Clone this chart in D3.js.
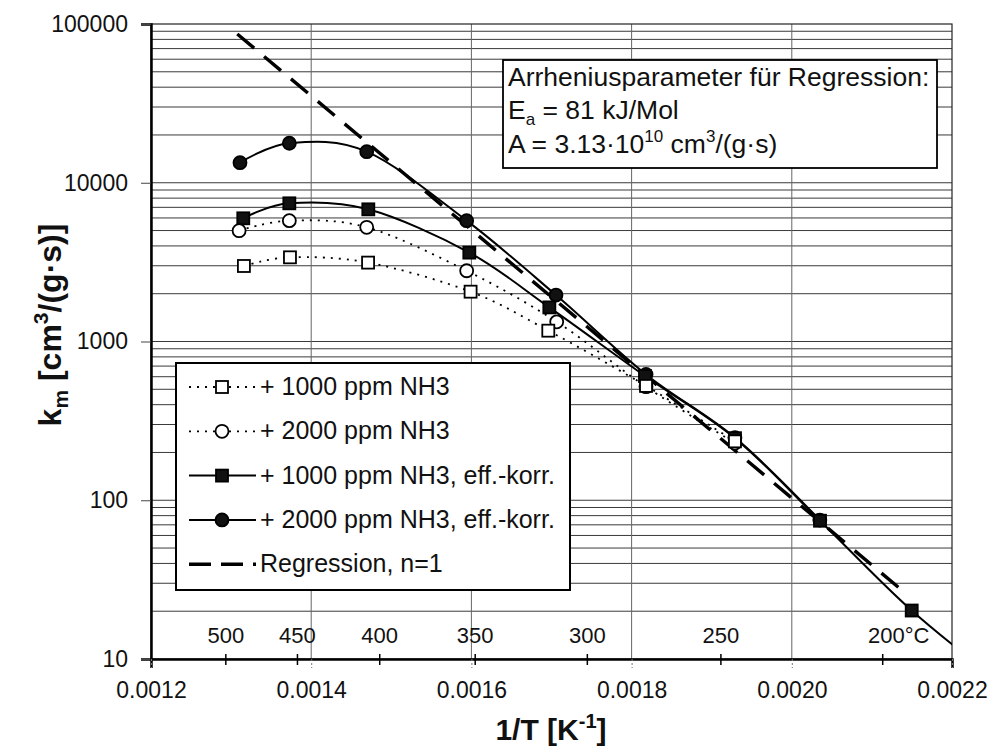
<!DOCTYPE html>
<html><head><meta charset="utf-8">
<script src="https://cdn.jsdelivr.net/npm/d3@7/dist/d3.min.js"></script>
<style>
body{margin:0;background:#fff}
svg{display:block}
text{font-family:"Liberation Sans",Arial,sans-serif;fill:#111}
</style>
</head><body>
<svg id="chart" width="994" height="750"></svg>
<script>
// ---- data ----
const xTicks = [0.0012, 0.0014, 0.0016, 0.0018, 0.0020, 0.0022];
const yTicks = [10, 100, 1000, 10000, 100000];
const tempTicksC = [500, 450, 400, 350, 300, 250, 200];
const seriesNames = ["+ 1000 ppm NH3", "+ 2000 ppm NH3", "+ 1000 ppm NH3, eff.-korr.", "+ 2000 ppm NH3, eff.-korr.", "Regression, n=1"];

const invT_1000 = [0.001316, 0.0013735, 0.001471, 0.001599, 0.001696, 0.001818, 0.001929];
const km_1000   = [2990, 3390, 3140, 2060, 1170, 525, 235];

const invT_2000 = [0.00131, 0.0013727, 0.0014693, 0.0015941, 0.0017065, 0.001818, 0.001929];
const km_2000   = [4990, 5770, 5240, 2790, 1330, 519, 229];

const invT_1000k = [0.0013152, 0.0013727, 0.0014713, 0.0015974, 0.0016973, 0.0018167, 0.0019291, 0.0020352, 0.0021497, 0.00226];
const km_1000k   = [5970, 7420, 6800, 3630, 1640, 606, 246, 74.3, 20.2, 7.2];

const invT_2000k = [0.0013111, 0.0013727, 0.0014693, 0.0015941, 0.0017056, 0.001818, 0.001929, 0.002035];
const km_2000k   = [13380, 17730, 15690, 5770, 1960, 620, 248, 75];

const invT_reg = [0.0013077, 0.0021372];
const km_reg   = [86500, 27.2];

// ---- setup ----
const svg = d3.select("#chart");
const x = d3.scaleLinear().domain([0.0012, 0.0022]).range([151, 952]);
const y = d3.scaleLog().domain([10, 100000]).range([659, 24]);
const [X0, X1] = x.range(), [Y0, Y1] = y.range();
const FONT = '"Liberation Sans",Arial,sans-serif';

svg.append("rect").attr("width", 994).attr("height", 750).attr("fill", "#fff");

svg.append("defs").append("clipPath").attr("id", "plotclip")
  .append("rect").attr("x", X0).attr("y", Y1).attr("width", X1 - X0).attr("height", Y0 - Y1);

// horizontal gridlines (minor + major)
const hLines = [];
[10, 100, 1000, 10000].forEach(d => { for (let m = 2; m <= 9; m++) hLines.push(d * m); });
[100, 1000, 10000].forEach(d => hLines.push(d));
svg.append("g").selectAll("line").data(hLines).join("line")
  .attr("x1", X0).attr("x2", X1)
  .attr("y1", d => y(d)).attr("y2", d => y(d))
  .attr("stroke", "#3a3a3a").attr("stroke-width", 1);

// vertical gridlines
svg.append("g").selectAll("line").data(xTicks.slice(1, -1)).join("line")
  .attr("x1", d => x(d)).attr("x2", d => x(d))
  .attr("y1", Y1).attr("y2", Y0)
  .attr("stroke", "#666").attr("stroke-width", 1);

// plot frame
svg.append("rect").attr("x", X0).attr("y", Y1).attr("width", X1 - X0).attr("height", Y0 - Y1)
  .attr("fill", "none").attr("stroke", "#222").attr("stroke-width", 1.2);

// axes
const yAxis = d3.axisLeft(y).tickValues(yTicks).tickFormat(d3.format("d")).tickSize(10).tickPadding(13);
const gy = svg.append("g").attr("transform", `translate(${X0},0)`).call(yAxis);
gy.select(".domain").attr("stroke", "#000").attr("stroke-width", 2.5);
gy.selectAll(".tick line").attr("stroke", "#444");
gy.selectAll(".tick text").attr("font-size", 23).attr("font-family", FONT).attr("fill", "#111");

const xAxis = d3.axisBottom(x).tickValues(xTicks).tickFormat(d3.format(".4f")).tickSize(9).tickPadding(14);
const gx = svg.append("g").attr("transform", `translate(0,${Y0})`).call(xAxis);
gx.select(".domain").attr("stroke", "#000").attr("stroke-width", 2.5);
gx.selectAll(".tick line").attr("stroke", "#777").attr("stroke-dasharray", "2,2");
gx.selectAll(".tick text").attr("font-size", 23).attr("font-family", FONT).attr("fill", "#111");

// temperature scale inside plot
const tempX = t => x(1 / (t + 273.15));
svg.append("g").selectAll("line").data(tempTicksC).join("line")
  .attr("x1", d => tempX(d)).attr("x2", d => tempX(d))
  .attr("y1", Y0 - 5).attr("y2", Y0 + 6)
  .attr("stroke", "#000").attr("stroke-width", 1.5);
svg.append("g").selectAll("text").data(tempTicksC).join("text")
  .attr("x", d => tempX(d) + (d === 200 ? 16 : 0))
  .attr("y", Y0 - 16)
  .attr("text-anchor", "middle")
  .attr("font-size", 22).attr("fill", "#222")
  .text(d => d === 200 ? "200°C" : d);

// ---- series ----
const plot = svg.append("g").attr("clip-path", "url(#plotclip)");
const line = d3.line().x(d => x(d[0])).y(d => y(d[1])).curve(d3.curveCatmullRom.alpha(0));
const zip = (a, b) => a.map((v, i) => [v, b[i]]);

const S = [
  {data: zip(invT_1000, km_1000), dash: "2,6", sw: 1.8, marker: "square", fill: "#fff"},
  {data: zip(invT_2000, km_2000), dash: "2,6", sw: 1.8, marker: "circle", fill: "#fff"},
  {data: zip(invT_1000k, km_1000k), dash: null, sw: 2, marker: "square", fill: "#111"},
  {data: zip(invT_2000k, km_2000k), dash: null, sw: 2, marker: "circle", fill: "#111"},
];

// regression
plot.append("path").datum(zip(invT_reg, km_reg))
  .attr("d", d3.line().x(d => x(d[0])).y(d => y(d[1])))
  .attr("fill", "none").attr("stroke", "#000").attr("stroke-width", 3.4)
  .attr("stroke-dasharray", "22,13");

S.forEach(s => {
  plot.append("path").datum(s.data).attr("d", line)
    .attr("fill", "none").attr("stroke", "#000").attr("stroke-width", s.sw)
    .attr("stroke-dasharray", s.dash);
});

function drawMarker(g, type, cx, cy, fill) {
  if (type === "square") {
    g.append("rect").attr("x", cx - 6).attr("y", cy - 6).attr("width", 12).attr("height", 12)
      .attr("fill", fill).attr("stroke", "#000").attr("stroke-width", 1.8);
  } else {
    g.append("circle").attr("cx", cx).attr("cy", cy).attr("r", 6.5)
      .attr("fill", fill).attr("stroke", "#000").attr("stroke-width", 1.8);
  }
}
[3, 2, 1, 0].forEach(i => {
  const s = S[i];
  s.data.forEach(d => {
    if (d[0] <= 0.0022) drawMarker(plot, s.marker, x(d[0]), y(d[1]), s.fill);
  });
});

// ---- legend ----
const lg = svg.append("g");
lg.append("rect").attr("x", 176).attr("y", 363).attr("width", 394).attr("height", 227)
  .attr("fill", "#fff").attr("stroke", "#000").attr("stroke-width", 2);
const rowY = i => 387 + i * 44.3;
seriesNames.forEach((name, i) => {
  const yy = rowY(i);
  if (i < 4) {
    const s = S[i];
    lg.append("line").attr("x1", 189).attr("x2", 256).attr("y1", yy).attr("y2", yy)
      .attr("stroke", "#000").attr("stroke-width", s.sw).attr("stroke-dasharray", s.dash);
    drawMarker(lg, s.marker, 222, yy, s.fill);
  } else {
    lg.append("line").attr("x1", 189).attr("x2", 256).attr("y1", yy).attr("y2", yy)
      .attr("stroke", "#000").attr("stroke-width", 3.4).attr("stroke-dasharray", "22,10");
  }
  lg.append("text").attr("x", 260).attr("y", yy + 8).attr("font-size", 25).text(name);
});

// ---- annotation box ----
const ab = svg.append("g");
ab.append("rect").attr("x", 503).attr("y", 60).attr("width", 434).attr("height", 108)
  .attr("fill", "#fff").attr("stroke", "#000").attr("stroke-width", 1.8);
ab.append("text").attr("x", 508).attr("y", 86).attr("font-size", 26.5).text("Arrheniusparameter für Regression:");
const t2 = ab.append("text").attr("x", 508).attr("y", 119).attr("font-size", 26.5);
t2.append("tspan").text("E");
t2.append("tspan").attr("dy", 6).attr("font-size", 17).text("a");
t2.append("tspan").attr("dy", -6).text(" = 81 kJ/Mol");
const t3 = ab.append("text").attr("x", 508).attr("y", 153).attr("font-size", 26.5);
t3.append("tspan").text("A = 3.13·10");
t3.append("tspan").attr("dy", -11).attr("font-size", 17).text("10");
t3.append("tspan").attr("dy", 11).text(" cm");
t3.append("tspan").attr("dy", -11).attr("font-size", 17).text("3");
t3.append("tspan").attr("dy", 11).text("/(g·s)");

// ---- axis titles ----
const yt = svg.append("text").attr("transform", "translate(61,325) rotate(-90)")
  .attr("text-anchor", "middle").attr("font-size", 32).attr("font-weight", "bold");
yt.append("tspan").text("k");
yt.append("tspan").attr("dy", 7).attr("font-size", 21).text("m");
yt.append("tspan").attr("dy", -7).text(" [cm");
yt.append("tspan").attr("dy", -13).attr("font-size", 21).text("3");
yt.append("tspan").attr("dy", 13).text("/(g·s)]");

const xt = svg.append("text").attr("x", 551).attr("y", 740)
  .attr("text-anchor", "middle").attr("font-size", 30).attr("font-weight", "bold");
xt.append("tspan").text("1/T [K");
xt.append("tspan").attr("dy", -12).attr("font-size", 20).text("-1");
xt.append("tspan").attr("dy", 12).text("]");
</script>
</body></html>
